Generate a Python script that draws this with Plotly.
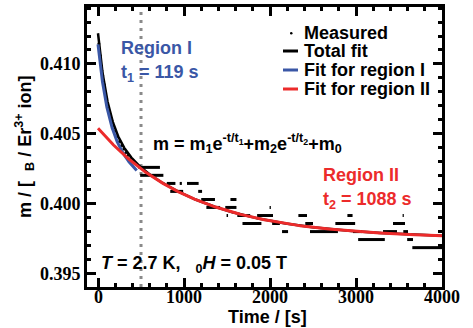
import numpy as np
import plotly.graph_objects as go

# ---- measured magnetisation: early-time points ----
early_t = [10, 25, 40, 55, 70, 85, 100, 120, 140, 160, 180, 200, 225, 250,
           275, 300, 325, 350, 375, 400, 425]
early_m = [0.41145, 0.41060, 0.40985, 0.40915, 0.40855, 0.40800, 0.40750,
           0.40690, 0.40640, 0.40595, 0.40555, 0.40520, 0.40480, 0.40445,
           0.40415, 0.40390, 0.40365, 0.40345, 0.40320, 0.40305, 0.40290]

# ---- measured magnetisation: digitised plateaus (start, end, level) ----
run_start = [470, 490, 800, 950, 1035, 840, 1165, 1200, 1540, 1260, 1480, 1995,
             1495, 1620, 1850, 2330, 2900, 3542,
             1680, 2025, 2410, 2760, 3430,
             2140, 2465, 2965, 3314, 3550,
             3025, 3595, 3655]
run_end = [720, 760, 900, 975, 1170, 990, 1210, 1360, 1610, 1420, 1610, 2010,
           1512, 1770, 2035, 2430, 2960, 3556,
           1900, 2115, 2500, 2990, 3570,
           2210, 2790, 3070, 3477, 3605,
           3335, 3663, 4000]
run_level = [0.40259, 0.40202, 0.40144, 0.40144, 0.40144, 0.40087, 0.40087,
             0.40029, 0.40029, 0.39972, 0.39972, 0.39972,
             0.39914, 0.39914, 0.39914, 0.39914, 0.39914, 0.39914,
             0.39857, 0.39857, 0.39857, 0.39857, 0.39857,
             0.39799, 0.39799, 0.39799, 0.39799, 0.39799,
             0.39742, 0.39742, 0.39684]

# ---- fit parameters ----
t1, t2 = 119.0, 1088.0
m1, m2, m0 = 0.0068, 0.0079, 0.3975          # total fit
m1_I, m2_I, m0_I = 0.0065, 0.0079, 0.3970    # region I fit
m2_II, m0_II = 0.0079, 0.3975                # region II fit
t_split = 500
t_end_I = 450

x_ticks = [0, 1000, 2000, 3000, 4000]
y_ticks = [0.395, 0.400, 0.405, 0.410]

BLUE = "#3a57a6"
RED = "#ec2b2b"
SANS = "Liberation Sans, Arial, sans-serif"
SERIF = "Liberation Serif, Times New Roman, serif"

t_full = np.linspace(0, 4000, 800)
t_I = np.linspace(0, t_end_I, 200)
total_fit = m1 * np.exp(-t_full / t1) + m2 * np.exp(-t_full / t2) + m0
fit_I = m1_I * np.exp(-t_I / t1) + m2_I * np.exp(-t_I / t2) + m0_I
fit_II = m2_II * np.exp(-t_full / t2) + m0_II

seg_x, seg_y = [], []
for a, b, lv in zip(run_start, run_end, run_level):
    seg_x += [a, b, None]
    seg_y += [lv, lv, None]

fig = go.Figure()
fig.add_trace(go.Scatter(x=seg_x, y=seg_y, mode="lines",
                         line=dict(color="black", width=3), showlegend=False))
fig.add_trace(go.Scatter(x=early_t, y=early_m, mode="markers",
                         marker=dict(color="black", size=3), showlegend=False))
fig.add_trace(go.Scatter(x=t_full, y=total_fit, mode="lines",
                         line=dict(color="black", width=2.5), showlegend=False))
fig.add_trace(go.Scatter(x=t_I, y=fit_I, mode="lines",
                         line=dict(color=BLUE, width=3), showlegend=False))
fig.add_trace(go.Scatter(x=t_full, y=fit_II, mode="lines",
                         line=dict(color=RED, width=3), showlegend=False))

W, H = 473, 328
L, R, T, B = 87, 31, 7, 41
PW, PH = W - L - R, H - T - B


def px(xp):
    return (xp - L) / PW


def py(yp):
    return (H - B - yp) / PH


# boundary between regions
fig.add_shape(type="line", xref="x", yref="paper", x0=t_split, x1=t_split,
              y0=0, y1=1, line=dict(color="#8a8a8a", width=3, dash="3px,5px"),
              layer="below")

# hand-drawn legend
legend_rows = [("Measured", None, 33), ("Total fit", "black", 51),
               ("Fit for region I", BLUE, 70), ("Fit for region II", RED, 89)]
annotations = []
for label, col, yy in legend_rows:
    annotations.append(dict(x=px(302), y=py(yy), xref="paper", yref="paper",
                            text=label, showarrow=False, xanchor="left",
                            yanchor="middle",
                            font=dict(family=SANS, size=18, color="black",
                                      weight="bold")))
    if col is None:
        fig.add_shape(type="circle", xref="paper", yref="paper",
                      x0=px(290), x1=px(292.5), y0=py(32), y1=py(34.5),
                      fillcolor="black", line=dict(width=0))
    else:
        fig.add_shape(type="line", xref="paper", yref="paper",
                      x0=px(283), x1=px(298), y0=py(yy), y1=py(yy),
                      line=dict(color=col, width=3))


def note(text, x, y, color="black", anchor="left", angle=0):
    annotations.append(dict(x=px(x), y=py(y), xref="paper", yref="paper",
                            text=text, showarrow=False, xanchor=anchor,
                            yanchor="middle", textangle=angle,
                            font=dict(family=SANS, size=18, color=color,
                                      weight="bold")))


note("Region I", 119, 48, BLUE)
note("t<sub>1</sub> = 119 s", 119, 73, BLUE)
note("m = m<sub>1</sub>e<sup>-t/t<sub>1</sub></sup>+m<sub>2</sub>e"
     "<sup>-t/t<sub>2</sub></sup>+m<sub>0</sub>", 151, 143)
note("Region II", 321, 175, RED)
note("t<sub>2</sub> = 1088 s", 321, 200, RED)
note("<i>T</i> = 2.7 K,\u00a0\u00a0\u00a0<sub>0</sub><i>H</i> = 0.05 T", 99, 264)

# axis titles
note("Time / [s]", 267, 317, anchor="center")
note("m / [\u00a0\u00a0<sub>B</sub> / Er<sup>3+</sup> ion]", 24, 146,
     anchor="center", angle=-90)

# x tick labels placed on the x scale, set a little closer to the frame
for v in x_ticks:
    annotations.append(dict(x=v, y=py(297), xref="x", yref="paper",
                            text=str(v), showarrow=False, xanchor="center",
                            yanchor="middle",
                            font=dict(family=SERIF, size=18, color="black",
                                      weight="bold")))

axis_common = dict(showline=True, linewidth=3, linecolor="black", mirror="ticks",
                   ticks="inside", ticklen=9, tickwidth=3, tickcolor="black",
                   showgrid=False, zeroline=False, automargin=False,
                   tickfont=dict(family=SERIF, size=18, color="black",
                                 weight="bold"))

fig.update_xaxes(range=[-128, 4000], tickvals=x_ticks, showticklabels=False,
                 minor=dict(dtick=200, tick0=0, ticks="inside", ticklen=4,
                            tickwidth=3, tickcolor="black"),
                 **axis_common)
fig.update_yaxes(range=[0.39402, 0.41408], tickvals=y_ticks,
                 ticktext=[f"{v:.3f}" for v in y_ticks],
                 minor=dict(dtick=0.001, tick0=0.395, ticks="inside", ticklen=4,
                            tickwidth=3, tickcolor="black"),
                 **axis_common)

fig.update_layout(width=W, height=H, margin=dict(l=L, r=R, t=T, b=B),
                  paper_bgcolor="white", plot_bgcolor="white",
                  showlegend=False, annotations=annotations)

fig.write_html("out.html")
